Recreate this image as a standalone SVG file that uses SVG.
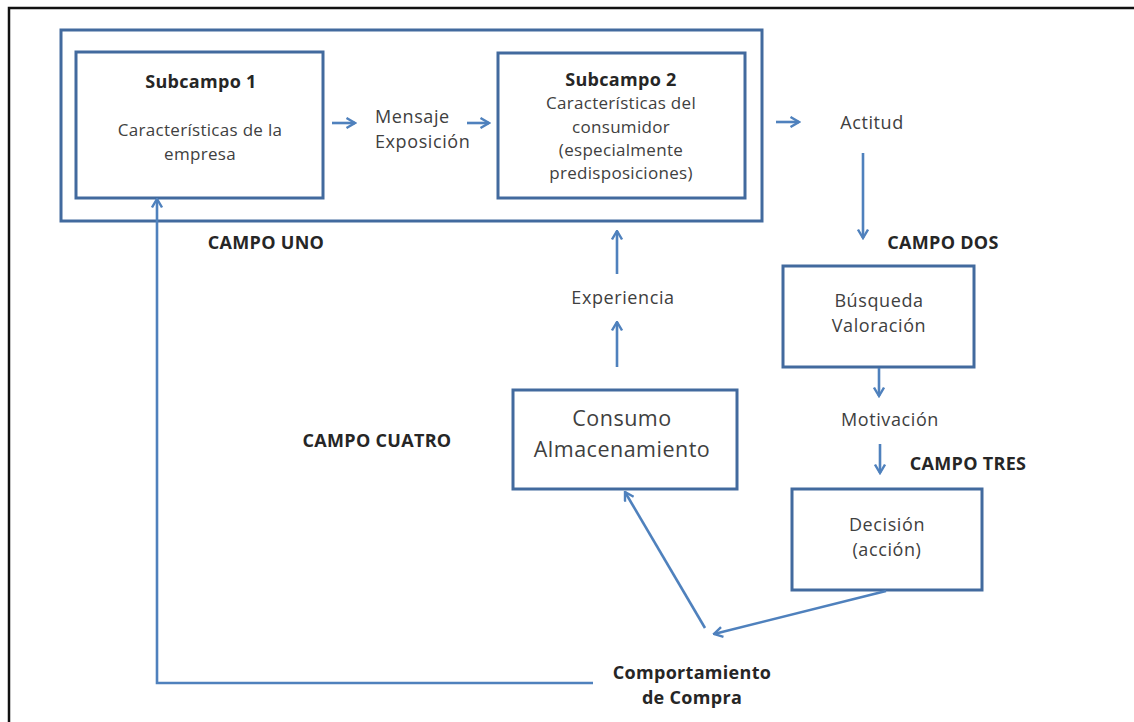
<svg xmlns="http://www.w3.org/2000/svg" width="1134" height="722" viewBox="0 0 1134 722">
  <style>
    .box { fill: #ffffff; stroke: #426a9e; stroke-width: 3; }
    .wire { fill: none; stroke: #4f81bd; stroke-width: 2.6; }
    .txt { font-family: "Open Sans", "Noto Sans", sans-serif; font-size: 18px; letter-spacing: 0.6px; fill: #404040; text-anchor: middle; }
    .sub { font-size: 17px; letter-spacing: 0.3px; }
    .big { font-size: 21.5px; letter-spacing: 0.5px; }
    .left { text-anchor: start; }
    .hd { font-family: "Open Sans", "Noto Sans", sans-serif; font-size: 18px; letter-spacing: 0.3px; font-weight: bold; fill: #262626; text-anchor: middle; }
  </style>
  <defs>
    <marker id="chev" viewBox="0 0 12 12" refX="10.5" refY="6" markerWidth="12" markerHeight="12" markerUnits="userSpaceOnUse" orient="auto">
      <path d="M2,1 L10.5,6 L2,11" fill="none" stroke="#4f81bd" stroke-width="2.4"/>
    </marker>
  </defs>

  <rect width="1134" height="722" fill="#ffffff"/>
  <!-- page frame -->
  <path d="M9,740 L9,8 L1140,8" fill="none" stroke="#111111" stroke-width="2.5"/>

  <!-- campo uno container -->
  <g id="campo-uno">
    <rect class="box" x="61" y="30" width="701" height="191"/>
    <text class="hd" x="266" y="249">CAMPO UNO</text>
  </g>

  <g id="subcampo-1">
    <rect class="box" x="76" y="52" width="247" height="146"/>
    <text class="hd" x="201" y="88">Subcampo 1</text>
    <text class="txt sub" x="200" y="136">Características de la</text>
    <text class="txt sub" x="200" y="160">empresa</text>
  </g>

  <g id="mensaje">
    <text class="txt left" x="375" y="123">Mensaje</text>
    <text class="txt left" x="375" y="148">Exposición</text>
  </g>

  <g id="subcampo-2">
    <rect class="box" x="498" y="53" width="247" height="145"/>
    <text class="hd" x="621" y="86">Subcampo 2</text>
    <text class="txt sub" x="621" y="109">Características del</text>
    <text class="txt sub" x="621" y="133">consumidor</text>
    <text class="txt sub" x="621" y="156">(especialmente</text>
    <text class="txt sub" x="621" y="179">predisposiciones)</text>
  </g>

  <g id="actitud">
    <text class="txt" x="872" y="129">Actitud</text>
  </g>

  <g id="campo-dos">
    <text class="hd" x="943" y="249">CAMPO DOS</text>
  </g>

  <g id="busqueda">
    <rect class="box" x="783" y="266" width="191" height="101"/>
    <text class="txt" x="879" y="307">Búsqueda</text>
    <text class="txt" x="879" y="332">Valoración</text>
  </g>

  <g id="motivacion">
    <text class="txt" x="890" y="426">Motivación</text>
  </g>

  <g id="campo-tres">
    <text class="hd" x="968" y="470">CAMPO TRES</text>
  </g>

  <g id="decision">
    <rect class="box" x="792" y="489" width="190" height="101"/>
    <text class="txt" x="887" y="531">Decisión</text>
    <text class="txt" x="887" y="556">(acción)</text>
  </g>

  <g id="consumo">
    <rect class="box" x="513" y="390" width="224" height="99"/>
    <text class="txt big" x="622" y="426">Consumo</text>
    <text class="txt big" x="622" y="457">Almacenamiento</text>
  </g>

  <g id="campo-cuatro">
    <text class="hd" x="377" y="447">CAMPO CUATRO</text>
  </g>

  <g id="experiencia">
    <text class="txt" x="623" y="304">Experiencia</text>
  </g>

  <g id="comportamiento">
    <text class="hd" x="692" y="679">Comportamiento</text>
    <text class="hd" x="692" y="704">de Compra</text>
  </g>

  <!-- connectors -->
  <g id="connectors">
    <line class="wire" x1="332" y1="123" x2="355" y2="123" marker-end="url(#chev)"/>
    <line class="wire" x1="467" y1="123" x2="489" y2="123" marker-end="url(#chev)"/>
    <line class="wire" x1="776" y1="122" x2="799" y2="122" marker-end="url(#chev)"/>
    <line class="wire" x1="863" y1="153" x2="863" y2="238" marker-end="url(#chev)"/>
    <line class="wire" x1="879" y1="368" x2="879" y2="396" marker-end="url(#chev)"/>
    <line class="wire" x1="880" y1="444" x2="880" y2="473" marker-end="url(#chev)"/>
    <line class="wire" x1="886" y1="591" x2="714" y2="634" marker-end="url(#chev)"/>
    <line class="wire" x1="705" y1="628" x2="625" y2="492" marker-end="url(#chev)"/>
    <line class="wire" x1="617" y1="274" x2="617" y2="231" marker-end="url(#chev)"/>
    <line class="wire" x1="617" y1="367" x2="617" y2="322" marker-end="url(#chev)"/>
    <polyline class="wire" points="593,683 157,683 157,199" marker-end="url(#chev)"/>
  </g>
</svg>
